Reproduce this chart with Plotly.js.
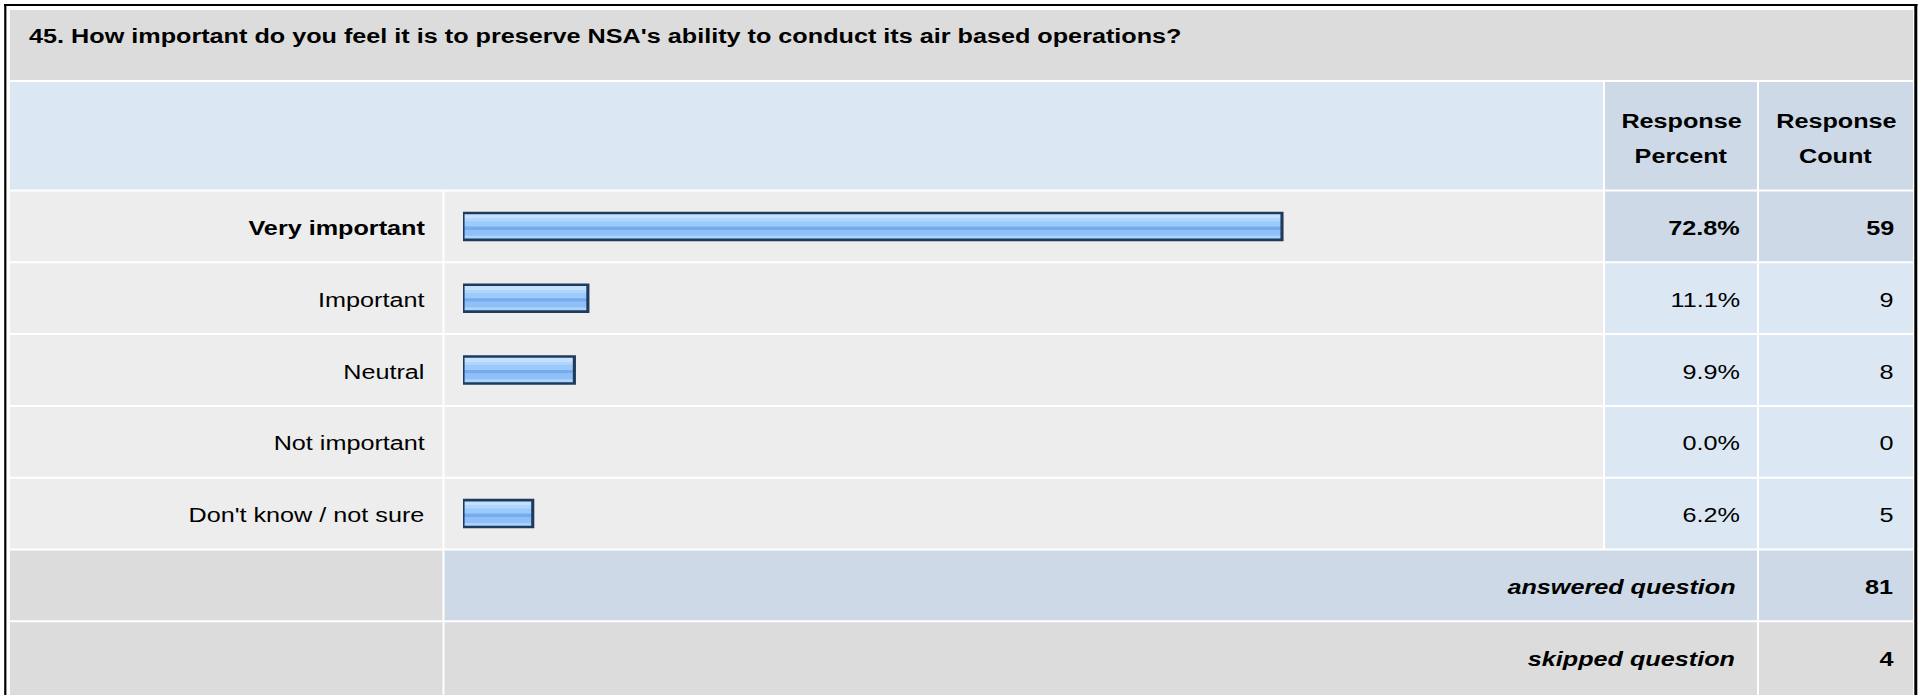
<!DOCTYPE html>
<html>
<head>
<meta charset="utf-8">
<script src="https://cdn.plot.ly/plotly-3.0.1.min.js"></script>
<style>
  html, body { margin: 0; padding: 0; background: #ffffff; overflow: hidden; }
  #wrap { width: 1925px; height: 695px; overflow: hidden; }
  #chart { width: 1604px; height: 695px; transform-origin: 0 0; }
</style>
</head>
<body>
<div id="wrap"><div id="chart"></div></div>
<script>
// ---------------- data ----------------
const questionTitle = "45. How important do you feel it is to preserve NSA's ability to conduct its air based operations?";
const answerOptions = ["Very important", "Important", "Neutral", "Not important", "Don't know / not sure"];
const responsePercent = [72.8, 11.1, 9.9, 0.0, 6.2];
const responseCount = [59, 9, 8, 0, 5];
const headerPercent = ["Response", "Percent"];
const headerCount = ["Response", "Count"];
const answeredLabel = "answered question";
const answeredQuestion = 81;
const skippedLabel = "skipped question";
const skippedQuestion = 4;

// ---------------- geometry ----------------
const FULLW = 1925, H = 695, INNERW = 1604;
const SX = FULLW / INNERW;
document.getElementById('chart').style.transform = 'scaleX(' + SX + ')';

const px = x => x / FULLW;
const py = y => 1 - y / H;
const FONT = 'Liberation Sans, Arial, Helvetica, sans-serif';
const FS = 21;

const C_TITLE = '#dcdcdc', C_HEAD = '#dce7f4', C_HEAD2 = '#cdd9e6', C_ROW = '#ededed', C_SUM = '#dcdcdc';

const COL = { l0: 10, l1: 442.5, b0: 444.5, b1: 1603, p0: 1605, p1: 1757, c0: 1759, c1: 1913 };
const ROW_TOP = 191.5, PITCH = 71.8, ROWH = PITCH - 2;

const shapes = [];
function rect(x0, x1, y0, y1, color) {
  shapes.push({ type: 'rect', xref: 'paper', yref: 'paper', x0: px(x0), x1: px(x1), y0: py(y1), y1: py(y0),
    fillcolor: color, line: { width: 0 }, layer: 'below' });
}
// title band
rect(COL.l0, COL.c1, 10, 80, C_TITLE);
// header
rect(COL.l0, COL.b1, 82, 189.5, C_HEAD);
rect(COL.p0, COL.p1, 82, 189.5, C_HEAD2);
rect(COL.c0, COL.c1, 82, 189.5, C_HEAD2);
// answer rows
answerOptions.forEach((lab, i) => {
  const y0 = ROW_TOP + i * PITCH, y1 = y0 + ROWH;
  rect(COL.l0, COL.l1, y0, y1, C_ROW);
  rect(COL.b0, COL.b1, y0, y1, C_ROW);
  const c = i === 0 ? C_HEAD2 : C_HEAD;
  rect(COL.p0, COL.p1, y0, y1, c);
  rect(COL.c0, COL.c1, y0, y1, c);
});
// answered / skipped rows
const yAns = ROW_TOP + 5 * PITCH, ySk = ROW_TOP + 6 * PITCH;
rect(COL.l0, COL.l1, yAns, yAns + ROWH, C_SUM);
rect(COL.b0, COL.p1, yAns, yAns + ROWH, C_HEAD2);
rect(COL.c0, COL.c1, yAns, yAns + ROWH, C_HEAD2);
rect(COL.l0, COL.l1, ySk, H + 2, C_SUM);
rect(COL.b0, COL.p1, ySk, H + 2, C_SUM);
rect(COL.c0, COL.c1, ySk, H + 2, C_SUM);
// outer frame
function line(x0, y0, x1, y1, w) {
  shapes.push({ type: 'line', xref: 'paper', yref: 'paper', x0: px(x0), y0: py(y0), x1: px(x1), y1: py(y1),
    line: { color: '#000000', width: w }, layer: 'above' });
}
line(4, 5, 1917.5, 5, 2.2);
line(5.3, 4, 5.3, H + 2, 2.2 / SX);
line(1915.8, 4, 1915.8, H + 2, 3 / SX);

// ---------------- annotations ----------------
const annotations = [];
function txt(text, x, y, anchor, opts) {
  annotations.push(Object.assign({ text: text, xref: 'paper', yref: 'paper', x: px(x), y: py(y),
    xanchor: anchor, yanchor: 'middle', showarrow: false,
    font: { family: FONT, size: FS, color: '#000000' } }, opts || {}));
}
txt('<b>' + questionTitle + '</b>', 26, 35, 'left');
txt('<b>' + headerPercent[0] + '</b>', 1681, 121, 'center');
txt('<b>' + headerPercent[1] + '</b>', 1681, 155.5, 'center');
txt('<b>' + headerCount[0] + '</b>', 1836, 121, 'center');
txt('<b>' + headerCount[1] + '</b>', 1836, 155.5, 'center');
answerOptions.forEach((lab, i) => {
  const yc = ROW_TOP + i * PITCH + ROWH / 2 + 1;
  const b = s => (i === 0 ? '<b>' + s + '</b>' : s);
  txt(b(lab), 427, yc, 'right');
  txt(b(responsePercent[i].toFixed(1) + '%'), 1742, yc, 'right');
  txt(b(String(responseCount[i])), 1896, yc, 'right');
});
txt('<b><i>' + answeredLabel + '</i></b>', 1738, yAns + ROWH / 2 + 1, 'right');
txt('<b>' + answeredQuestion + '</b>', 1896, yAns + ROWH / 2 + 1, 'right');
txt('<b><i>' + skippedLabel + '</i></b>', 1738, ySk + ROWH / 2 + 1, 'right');
txt('<b>' + skippedQuestion + '</b>', 1896, ySk + ROWH / 2 + 1, 'right');

// ---------------- bars ----------------
// zero-valued answers draw no bar at all (as in the source), so they are left empty
const barValues = responsePercent.map(v => (v > 0 ? v : null));
const BW = 0.375, HALF = BW / 2;
function barTrace(color, offset, width, lineOpts) {
  return { type: 'bar', orientation: 'h', x: barValues, y: answerOptions,
    width: width, offset: offset, hoverinfo: 'skip',
    marker: { color: color, line: lineOpts || { width: 0 } }, showlegend: false };
}
const traces = [
  barTrace('#9ccbfb', -HALF, BW),
  barTrace('#c4e2ff', -HALF, 0.075),
  barTrace('#b0d6fe', -HALF + 0.075, 0.04),
  barTrace('#76acef', 0.0, 0.05),
  barTrace('#8ec0f7', 0.05, 0.08),
  barTrace('#a9d4fc', 0.13, HALF - 0.13),
  barTrace('rgba(0,0,0,0)', -HALF, BW, { color: '#1f3a5c', width: 2.6 })
];

const layout = {
  width: INNERW, height: H,
  margin: { l: 0, r: 0, t: 0, b: 0, pad: 0 },
  paper_bgcolor: '#ffffff', plot_bgcolor: 'rgba(0,0,0,0)',
  barmode: 'overlay', showlegend: false,
  xaxis: { domain: [px(463), px(1588)], range: [0, 100], visible: false, fixedrange: true },
  yaxis: { domain: [py(ROW_TOP - 1 + 5 * PITCH), py(ROW_TOP - 1)], type: 'category',
    categoryorder: 'array', categoryarray: answerOptions, range: [4.5, -0.5], visible: false, fixedrange: true },
  shapes: shapes,
  annotations: annotations,
  font: { family: FONT, size: FS, color: '#000000' }
};

Plotly.newPlot('chart', traces, layout, { staticPlot: true, displayModeBar: false });
</script>
</body>
</html>
